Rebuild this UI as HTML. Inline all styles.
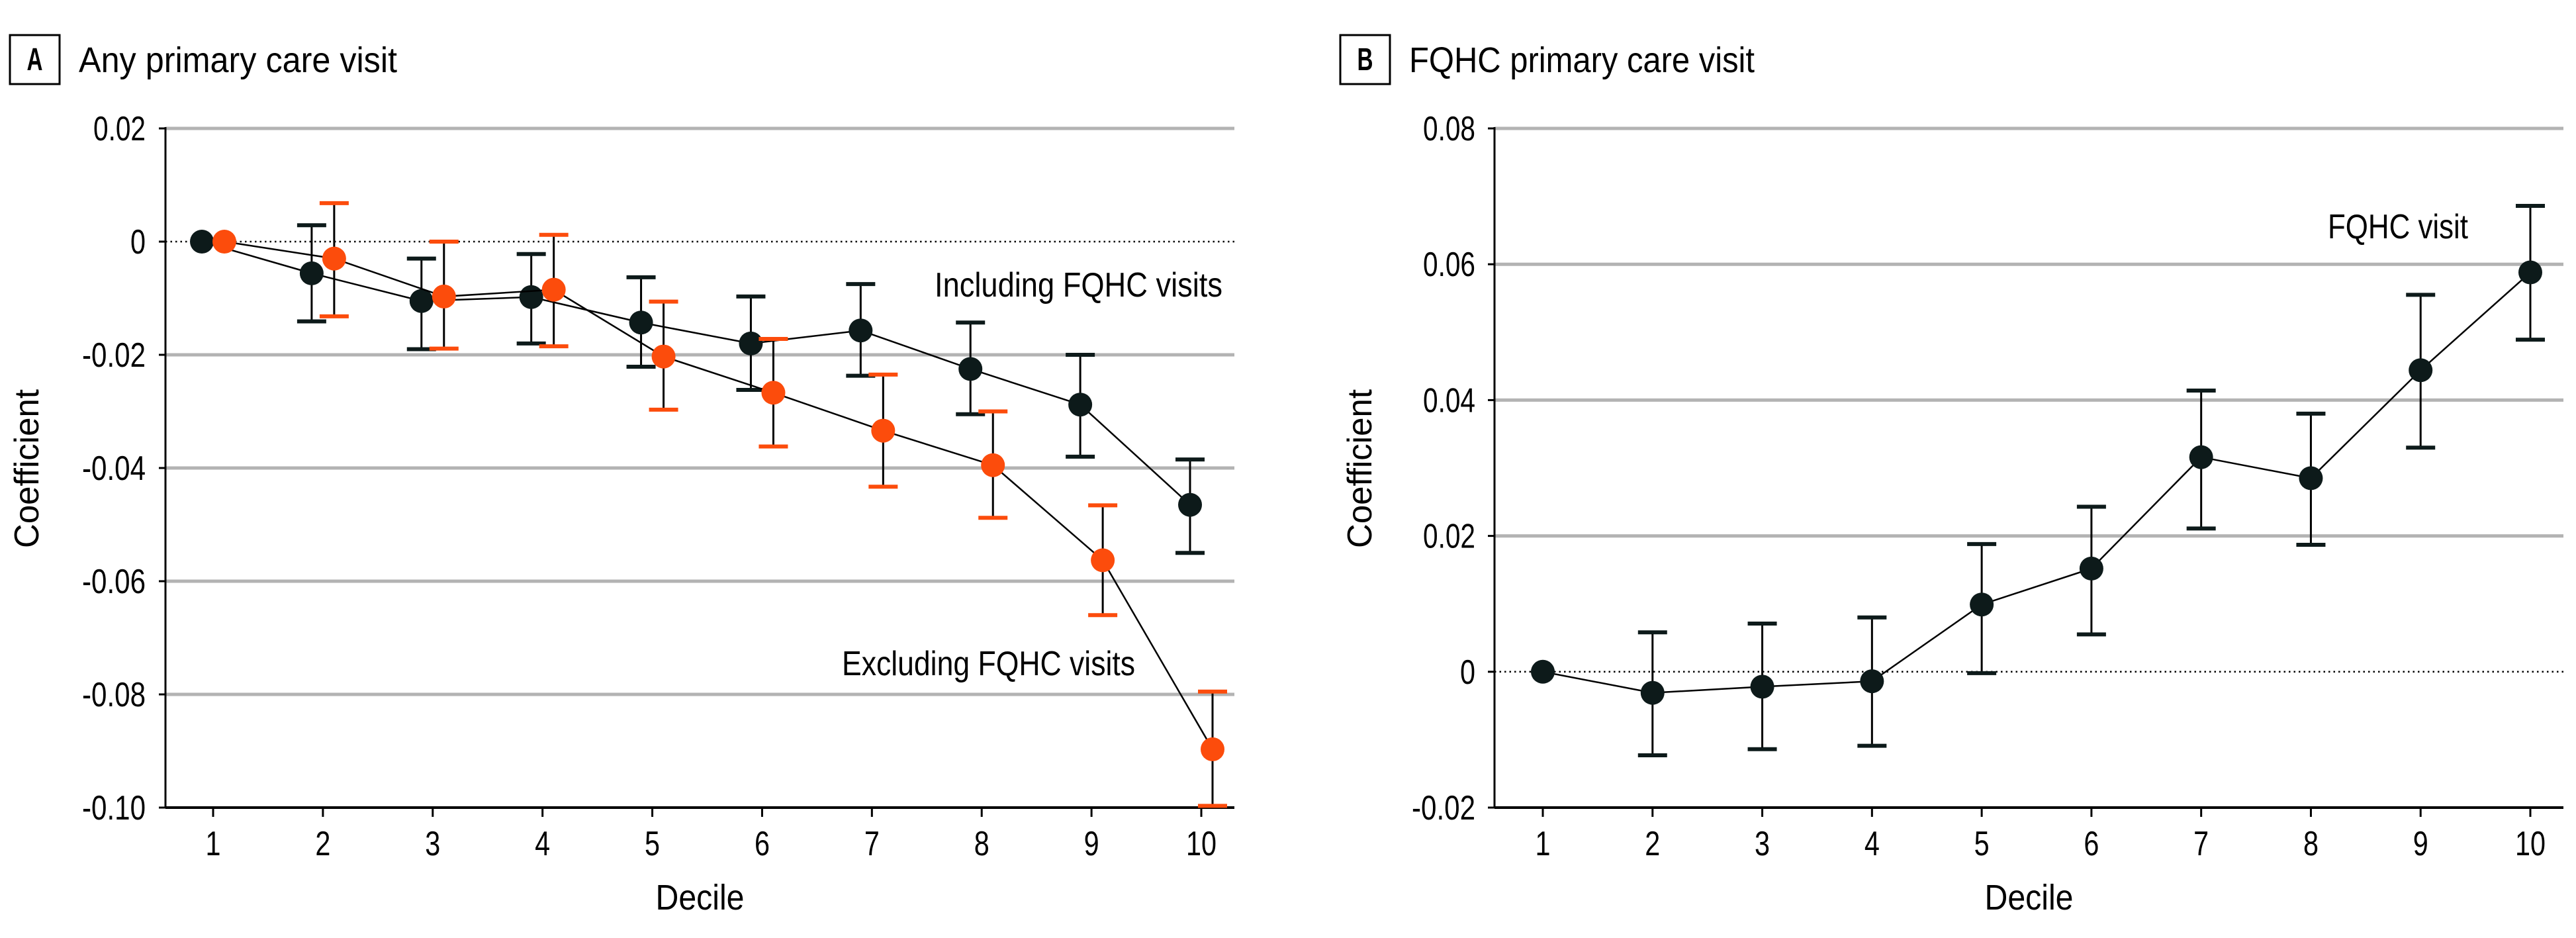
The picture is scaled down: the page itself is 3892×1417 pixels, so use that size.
<!DOCTYPE html>
<html><head><meta charset="utf-8"><style>
html,body{margin:0;padding:0;background:#fff;}
svg{display:block;}
.cond{font-family:"Liberation Sans Narrow","Liberation Sans",sans-serif;}
</style></head><body>
<svg id="fig" width="3892" height="1417" viewBox="0 0 3892 1417" xmlns="http://www.w3.org/2000/svg"></svg>
<script>
const deciles = [1,2,3,4,5,6,7,8,9,10];
const incEst = [0,-0.0056,-0.0105,-0.0098,-0.0143,-0.018,-0.0157,-0.0225,-0.0288,-0.0465];
const incLo  = [0,-0.0141,-0.019,-0.018,-0.0221,-0.0262,-0.0237,-0.0305,-0.038,-0.055];
const incHi  = [0,0.0029,-0.003,-0.0022,-0.0063,-0.0097,-0.0075,-0.0143,-0.020,-0.0385];
const excEst = [0,-0.003,-0.0097,-0.0085,-0.0203,-0.0267,-0.0334,-0.0395,-0.0563,-0.0897];
const excLo  = [0,-0.0132,-0.0189,-0.0185,-0.0297,-0.0362,-0.0433,-0.0488,-0.066,-0.0997];
const excHi  = [0,0.0068,0.0,0.0012,-0.0106,-0.0172,-0.0235,-0.030,-0.0466,-0.0795];
const fqEst = [0,-0.0031,-0.0022,-0.0014,0.0099,0.0152,0.0316,0.0285,0.0444,0.0588];
const fqLo  = [0,-0.0123,-0.0114,-0.0109,-0.0002,0.0055,0.0211,0.0187,0.033,0.0489];
const fqHi  = [0,0.0058,0.0071,0.008,0.0188,0.0243,0.0414,0.038,0.0555,0.0686];
const ticksA = [0.02,0,-0.02,-0.04,-0.06,-0.08,-0.10];
const tickLabelsA = ["0.02","0","-0.02","-0.04","-0.06","-0.08","-0.10"];
const ticksB = [0.08,0.06,0.04,0.02,0,-0.02];
const tickLabelsB = ["0.08","0.06","0.04","0.02","0","-0.02"];

const NS="http://www.w3.org/2000/svg";
const svg=document.getElementById('fig');
function mk(tag,attrs,parent){const e=document.createElementNS(NS,tag);for(const k in attrs)e.setAttribute(k,attrs[k]);(parent||svg).appendChild(e);return e;}
function numLen(s){let w=0;for(const c of s){w+= c==='.'?10 : c==='-'?17 : 23;}return w;}
const BLACK="#0d1a1a", ORANGE="#fc4c0c";

function panel(o){
  const g=mk('g',{});
  
  
  const yS=v=>o.yTop+(o.vTop-v)/(o.vTop-o.vBot)*(o.yBot-o.yTop);
  const xS=d=>o.x1+(d-1)*(o.x10-o.x1)/9;
  const box=mk('rect',{x:o.boxX,y:53,width:75,height:74,fill:'none',stroke:'#000','stroke-width':3},g);
  
  
  const lt=mk('text',{x:o.boxX+37.5,y:106,'text-anchor':'middle','font-size':48,'font-weight':'bold',class:'cond',textLength:24,lengthAdjust:'spacingAndGlyphs'},g);
  lt.textContent=o.letter;
  
  
  const tt=mk('text',{x:o.boxX+104,y:109,'font-size':54,class:'cond',textLength:o.titleLen,lengthAdjust:'spacingAndGlyphs'},g);
  tt.textContent=o.title;
  
  
  o.ticks.forEach((t,i)=>{
    const y=yS(t);
    if(t===0){
      const z=mk('line',{x1:o.axX,x2:o.axR,y1:y,y2:y,stroke:'#000','stroke-width':2.5,'stroke-dasharray':'2.5 5'},g);
      
      
    } else if(y>o.yTop-1 && Math.abs(y-o.yBot)>2){
      const gl=mk('line',{x1:o.axX,x2:o.axR,y1:y,y2:y,stroke:'#b3b3b3','stroke-width':5},g);
      
      
    }
    mk('line',{x1:o.axX-10,x2:o.axX,y1:y,y2:y,stroke:'#000','stroke-width':3},g);
    const lab=o.tickLabels[i];
    const tl=mk('text',{x:o.labR,y:y+18,'text-anchor':'end','font-size':52,class:'cond',textLength:numLen(lab),lengthAdjust:'spacingAndGlyphs'},g);
    tl.textContent=lab;
    
    
  });
  const ya=mk('line',{x1:o.axX,x2:o.axX,y1:o.yTop-2,y2:o.yBot,stroke:'#000','stroke-width':3},g);
  
  
  const xa=mk('line',{x1:o.axX,x2:o.axR,y1:o.yBot,y2:o.yBot,stroke:'#000','stroke-width':4},g);
  
  
  deciles.forEach(d=>{
    const x=xS(d);
    mk('line',{x1:x,x2:x,y1:o.yBot,y2:o.yBot+14,stroke:'#000','stroke-width':3},g);
    const s=String(d);
    const xl=mk('text',{x:x,y:1292,'text-anchor':'middle','font-size':52,class:'cond',textLength:numLen(s),lengthAdjust:'spacingAndGlyphs'},g);
    xl.textContent=s;
    
    
  });
  const xt=mk('text',{x:(o.axX+o.axR)/2,y:1374,'text-anchor':'middle','font-size':54,class:'cond',textLength:134,lengthAdjust:'spacingAndGlyphs'},g);
  xt.textContent='Decile';
  
  
  const yt=mk('text',{x:0,y:0,'text-anchor':'middle','font-size':52,'font-family':'Liberation Sans, sans-serif',textLength:240,lengthAdjust:'spacingAndGlyphs',transform:`translate(${o.yTitleX},708) rotate(-90)`},g);
  yt.textContent='Coefficient';
  
  
  o.series.forEach(s=>{
    const sg=mk('g',{},g);
    
    
    const pts=s.est.map((v,i)=>[xS(deciles[i])+s.off,yS(v)]);
    const pl=mk('polyline',{points:pts.map(p=>p.join(',')).join(' '),fill:'none',stroke:'#000','stroke-width':2.5},sg);
    
    
    s.est.forEach((v,i)=>{
      const x=pts[i][0];
      if(s.lo[i]!==s.hi[i]){
        const ylo=yS(s.lo[i]), yhi=yS(s.hi[i]);
        const eb=mk('g',{},sg);
        
        
        mk('line',{x1:x,x2:x,y1:ylo,y2:yhi,stroke:'#000','stroke-width':3},eb);
        mk('line',{x1:x-22,x2:x+22,y1:ylo,y2:ylo,stroke:s.color,'stroke-width':6},eb);
        mk('line',{x1:x-22,x2:x+22,y1:yhi,y2:yhi,stroke:s.color,'stroke-width':6},eb);
      }
    });
    s.est.forEach((v,i)=>{
      const c=mk('ellipse',{cx:pts[i][0],cy:pts[i][1],rx:18,ry:18,fill:s.color},sg);
      
      
    });
  });
  o.labels.forEach(l=>{
    const t=mk('text',{x:l.x,y:l.y,'font-size':52,class:'cond',textLength:l.len,lengthAdjust:'spacingAndGlyphs'},g);
    t.textContent=l.text;
    
    
  });
}

panel({name:'panel-a',letter:'A',title:'Any primary care visit',boxX:15,titleLen:481,
  yTop:194,yBot:1220,vTop:0.02,vBot:-0.10,axX:250,axR:1865,x1:322,x10:1815,labR:220,yTitleX:58,
  ticks:ticksA,tickLabels:tickLabelsA,
  series:[
    {name:'series-including-fqhc',est:incEst,lo:incLo,hi:incHi,color:BLACK,off:-17},
    {name:'series-excluding-fqhc',est:excEst,lo:excLo,hi:excHi,color:ORANGE,off:17}
  ],
  labels:[
    {text:'Including FQHC visits',x:1412,y:448,len:435,name:'label-including-fqhc'},
    {text:'Excluding FQHC visits',x:1272,y:1020,len:443,name:'label-excluding-fqhc'}
  ]});

panel({name:'panel-b',letter:'B',title:'FQHC primary care visit',boxX:2025,titleLen:522,
  yTop:194,yBot:1220,vTop:0.08,vBot:-0.02,axX:2258,axR:3873,x1:2331,x10:3823,labR:2229,yTitleX:2072,
  ticks:ticksB,tickLabels:tickLabelsB,
  series:[
    {name:'series-fqhc-visit',est:fqEst,lo:fqLo,hi:fqHi,color:BLACK,off:0}
  ],
  labels:[
    {text:'FQHC visit',x:3517,y:360,len:212,name:'label-fqhc-visit'}
  ]});
</script>
</body></html>
